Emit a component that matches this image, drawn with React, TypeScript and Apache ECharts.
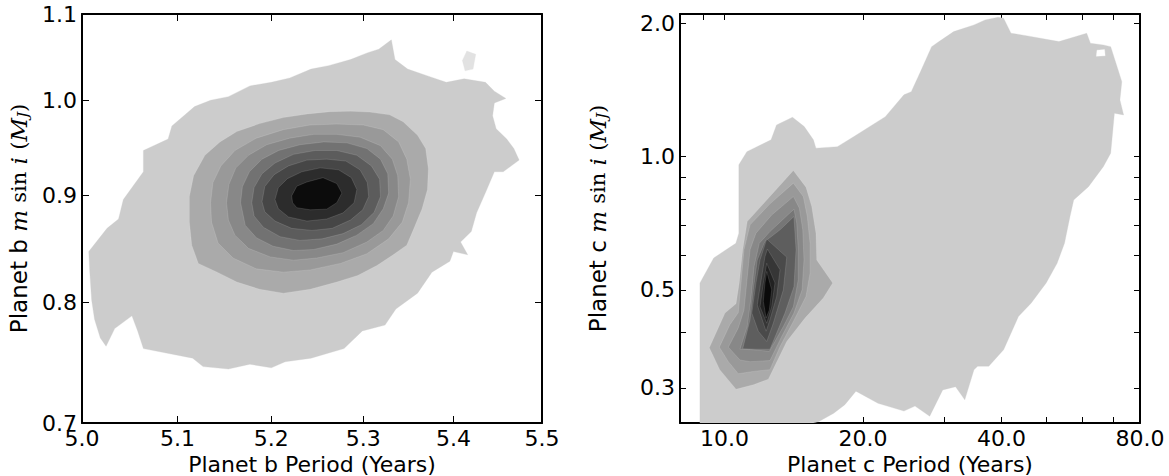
import React, { useEffect, useRef } from "react";
import * as echarts from "echarts";

// ---------- axis ticks / labels ----------
const bXTicks = [5.1, 5.2, 5.3, 5.4];
const bXLabels = [5.0, 5.1, 5.2, 5.3, 5.4, 5.5];
const bYTicks = [0.8, 0.9, 1.0];
const bYLabels = [0.7, 0.8, 0.9, 1.0, 1.1];
const cXTicks = [9, 10, 20, 30, 40, 50, 60, 70];
const cXLabels = [10, 20, 40, 80];
const cYTicks = [0.3, 0.4, 0.5, 0.6, 0.7, 0.8, 0.9, 1.0, 2.0];
const cYLabels = [0.3, 0.5, 1.0, 2.0];

// ---------- planet b contour levels (period [yr], m sin i [MJ]) ----------
const bOuter = [
  [5.007, 0.846], [5.026, 0.868], [5.038, 0.877], [5.043, 0.896], [5.064, 0.924], [5.064, 0.946],
  [5.09, 0.958], [5.094, 0.972], [5.118, 0.993], [5.135, 1.0], [5.154, 1.004], [5.177, 1.016],
  [5.2, 1.02], [5.22, 1.025], [5.243, 1.035], [5.262, 1.039], [5.286, 1.046], [5.305, 1.054],
  [5.317, 1.058], [5.331, 1.069], [5.335, 1.046], [5.349, 1.035], [5.372, 1.027], [5.392, 1.02],
  [5.412, 1.024], [5.436, 1.02], [5.446, 1.01], [5.459, 1.002], [5.446, 0.997], [5.444, 0.983],
  [5.448, 0.969], [5.46, 0.958], [5.468, 0.948], [5.474, 0.936], [5.456, 0.924], [5.446, 0.924],
  [5.436, 0.903], [5.426, 0.883], [5.42, 0.865], [5.408, 0.855], [5.416, 0.843], [5.4, 0.846],
  [5.396, 0.837], [5.376, 0.827], [5.36, 0.808], [5.336, 0.794], [5.324, 0.78], [5.299, 0.775],
  [5.279, 0.76], [5.243, 0.752], [5.215, 0.749], [5.2, 0.744], [5.177, 0.747], [5.154, 0.743],
  [5.127, 0.745], [5.116, 0.752], [5.064, 0.76], [5.058, 0.775], [5.052, 0.788], [5.034, 0.777],
  [5.025, 0.762], [5.019, 0.769], [5.013, 0.785], [5.01, 0.802], [5.008, 0.828],
];
const bSpeck = [[5.41, 1.045], [5.415, 1.056], [5.425, 1.052], [5.422, 1.035], [5.413, 1.033]];
const bLevel1 = [
  [5.1125, 0.899], [5.117, 0.92], [5.129, 0.941], [5.145, 0.955], [5.163, 0.966], [5.1875, 0.9745],
  [5.213, 0.981], [5.239, 0.985], [5.264, 0.9875], [5.286, 0.988], [5.307, 0.987], [5.329, 0.984],
  [5.344, 0.9765], [5.36, 0.962], [5.369, 0.948], [5.372, 0.927], [5.371, 0.906], [5.365, 0.887],
  [5.356, 0.868], [5.348, 0.852], [5.333, 0.843], [5.315, 0.833], [5.294, 0.824], [5.271, 0.818],
  [5.242, 0.8115], [5.213, 0.808], [5.1875, 0.8115], [5.163, 0.818], [5.142, 0.827], [5.122, 0.835],
  [5.115, 0.852], [5.1125, 0.874],
];
const bLevel2 = [
  [5.135, 0.893], [5.1375, 0.913], [5.146, 0.93], [5.161, 0.946], [5.184, 0.959], [5.213, 0.968],
  [5.242, 0.973], [5.271, 0.974], [5.3, 0.973], [5.322, 0.968], [5.339, 0.955], [5.348, 0.937],
  [5.352, 0.9165], [5.35, 0.893], [5.343, 0.874], [5.328, 0.858], [5.304, 0.844], [5.275, 0.835],
  [5.242, 0.829], [5.213, 0.827], [5.184, 0.83], [5.159, 0.84], [5.143, 0.854], [5.136, 0.874],
];
const bLevel3 = [
  [5.152, 0.893], [5.1545, 0.911], [5.162, 0.928], [5.1755, 0.941], [5.195, 0.952], [5.22, 0.959],
  [5.246, 0.963], [5.271, 0.963], [5.2965, 0.96], [5.319, 0.951], [5.332, 0.937], [5.338, 0.92],
  [5.339, 0.899], [5.333, 0.88], [5.322, 0.866], [5.304, 0.855], [5.278, 0.845], [5.249, 0.84],
  [5.224, 0.838], [5.199, 0.841], [5.1755, 0.849], [5.161, 0.8615], [5.154, 0.876],
];
const bLevel4 = [
  [5.167, 0.893], [5.169, 0.909], [5.1765, 0.924], [5.19, 0.937], [5.208, 0.946], [5.231, 0.952],
  [5.257, 0.955], [5.282, 0.954], [5.304, 0.948], [5.319, 0.937], [5.327, 0.922], [5.328, 0.9025],
  [5.322, 0.887], [5.311, 0.8725], [5.293, 0.8615], [5.271, 0.853], [5.246, 0.848], [5.224, 0.847],
  [5.202, 0.851], [5.184, 0.859], [5.172, 0.871],
];
const bLevel5 = [
  [5.179, 0.893], [5.1815, 0.908], [5.19, 0.922], [5.204, 0.933], [5.224, 0.942], [5.2475, 0.946],
  [5.271, 0.946], [5.293, 0.941], [5.309, 0.93], [5.318, 0.9165], [5.319, 0.899], [5.312, 0.8835],
  [5.298, 0.8715], [5.278, 0.863], [5.255, 0.858], [5.231, 0.8565], [5.2095, 0.86], [5.1915, 0.869],
  [5.1815, 0.88],
];
const bLevel6 = [
  [5.19, 0.894], [5.193, 0.909], [5.203, 0.921], [5.2185, 0.93], [5.2385, 0.936], [5.26, 0.937],
  [5.281, 0.935], [5.2965, 0.926], [5.3045, 0.913], [5.306, 0.899], [5.2995, 0.886], [5.286, 0.876],
  [5.266, 0.868], [5.244, 0.866], [5.222, 0.868], [5.204, 0.875], [5.193, 0.884],
];
const bLevel7 = [
  [5.204, 0.896], [5.2076, 0.908], [5.2174, 0.917], [5.233, 0.924], [5.253, 0.928], [5.273, 0.926],
  [5.287, 0.918], [5.293, 0.906], [5.29, 0.893], [5.278, 0.883], [5.26, 0.877], [5.2385, 0.875],
  [5.2185, 0.879], [5.2076, 0.887],
];
const bCore = [
  [5.222, 0.8997], [5.2276, 0.9094], [5.2385, 0.9136], [5.256, 0.918], [5.271, 0.912], [5.2766, 0.9025],
  [5.271, 0.893], [5.26, 0.8866], [5.242, 0.886], [5.2276, 0.888], [5.223, 0.893],
];
const bShapes = [bOuter, bSpeck, bLevel1, bLevel2, bLevel3, bLevel4, bLevel5, bLevel6, bLevel7, bCore];
const bColors = ["#cccccc", "#e2e2e2", "#aaaaaa", "#999999", "#888888", "#727272", "#5c5c5c", "#464646", "#2c2c2c", "#0c0c0c"];

// ---------- planet c contour levels ----------
const cOuter = [
  [8.84, 0.25], [8.84, 0.518], [9.47, 0.59], [10.58, 0.637], [10.74, 0.671], [10.74, 0.958],
  [11.18, 1.026], [12.62, 1.091], [12.97, 1.179], [14.05, 1.227], [14.9, 1.169], [15.6, 1.091],
  [15.8, 1.045], [17.59, 1.053], [19.11, 1.11], [22.36, 1.231], [24.54, 1.379], [25.46, 1.402],
  [26.67, 1.556], [28.19, 1.772], [29.25, 1.819], [31.49, 1.916], [34.85, 1.984], [36.84, 2.036],
  [39.3, 2.065], [40.42, 2.054], [41.94, 1.9], [45.58, 1.874], [53.33, 1.819], [56.35, 1.851],
  [61.27, 1.9], [62.42, 1.804], [66.58, 1.788], [69.08, 1.772], [71.7, 1.57], [73.04, 1.477],
  [72.35, 1.343], [73.7, 1.242], [70.38, 1.253], [69.08, 1.018], [66.58, 0.949], [61.82, 0.855],
  [57.41, 0.798], [56.35, 0.732], [54.82, 0.637], [52.83, 0.574], [50.02, 0.518], [46.43, 0.467],
  [43.53, 0.435], [40.42, 0.366], [37.53, 0.336], [35.5, 0.336], [34.85, 0.33], [33.28, 0.282],
  [31.78, 0.302], [29.8, 0.297], [27.92, 0.259], [25.94, 0.273], [24.54, 0.266], [21.55, 0.277],
  [19.3, 0.295], [18.26, 0.275], [17.27, 0.263], [16.04, 0.252], [15.6, 0.25],
];
const cHole = [[64.5, 1.74], [67.0, 1.745], [67.2, 1.69], [64.3, 1.685]];
const cLevel1 = [
  [9.265, 0.37], [10.02, 0.443], [10.59, 0.465], [10.76, 0.518], [10.95, 0.616], [11.2, 0.713],
  [12.35, 0.798], [14.11, 0.93], [15.03, 0.853], [15.47, 0.771], [15.8, 0.671], [15.86, 0.584],
  [17.18, 0.518], [16.39, 0.479], [14.96, 0.4315], [13.65, 0.382], [12.45, 0.314], [11.55, 0.305],
  [10.59, 0.298], [9.76, 0.33],
];
const cLevel2 = [
  [9.74, 0.371], [10.27, 0.417], [10.71, 0.444], [10.84, 0.508], [11.02, 0.616], [11.36, 0.701],
  [12.55, 0.782], [14.11, 0.871], [14.83, 0.812], [15.13, 0.732], [15.34, 0.637], [15.34, 0.545],
  [15.03, 0.483], [14.11, 0.424], [13.2, 0.372], [12.55, 0.33], [11.55, 0.327], [10.71, 0.323],
  [10.19, 0.344],
];
const cLevel3 = [
  [10.19, 0.371], [10.71, 0.41], [11.02, 0.45], [11.17, 0.518], [11.36, 0.616], [11.7, 0.671],
  [12.66, 0.738], [14.11, 0.812], [14.54, 0.7645], [14.79, 0.683], [14.88, 0.584], [14.74, 0.5],
  [14.15, 0.443], [13.31, 0.392], [12.55, 0.346], [11.36, 0.344], [10.8, 0.347],
];
const cLevel4 = [
  [10.8, 0.367], [11.2, 0.413], [11.4, 0.475], [11.59, 0.564], [11.9, 0.637], [12.55, 0.677],
  [14.15, 0.7605], [14.35, 0.707], [14.46, 0.616], [14.46, 0.527], [14.11, 0.458], [13.42, 0.413],
  [12.51, 0.363], [11.55, 0.366],
];
const cLevel5 = [
  [10.95, 0.368], [11.36, 0.428], [11.55, 0.5], [11.78, 0.584], [12.24, 0.643], [13.2, 0.683],
  [14.15, 0.732], [14.3, 0.616], [14.15, 0.508], [13.53, 0.443], [12.55, 0.367], [11.65, 0.367],
];
const cLevel6 = [
  [11.46, 0.443], [11.7, 0.518], [11.94, 0.584], [12.35, 0.651], [13.65, 0.5925], [13.42, 0.5],
  [12.76, 0.42], [12.35, 0.382], [11.84, 0.403],
];
const cLevel7 = [
  [11.78, 0.462], [11.98, 0.518], [12.24, 0.594], [12.39, 0.618], [13.2, 0.555], [12.98, 0.483],
  [12.55, 0.428], [12.31, 0.403],
];
const cLevel8 = [
  [11.94, 0.458], [12.14, 0.518], [12.35, 0.574], [12.87, 0.518], [12.66, 0.458], [12.35, 0.42],
];
const cCore = [
  [12.14, 0.471], [12.24, 0.518], [12.35, 0.55], [12.66, 0.5], [12.51, 0.45], [12.31, 0.4315],
];
const cShapes = [cOuter, cHole, cLevel1, cLevel2, cLevel3, cLevel4, cLevel5, cLevel6, cLevel7, cLevel8, cCore];
const cColors = ["#cccccc", "#ffffff", "#aaaaaa", "#999999", "#888888", "#767676", "#5e5e5e", "#4a4a4a", "#363636", "#222222", "#0a0a0a"];

const FONT = "DejaVu Sans";
const FS = 22;
const NAME_FS = 22;

function contourSeries(shapes: number[][][], colors: string[], axisIndex: number) {
  return {
    type: "custom",
    coordinateSystem: "cartesian2d",
    xAxisIndex: axisIndex,
    yAxisIndex: axisIndex,
    clip: true,
    silent: true,
    data: shapes.map((s) => s[0]),
    encode: { x: 0, y: 1 },
    renderItem: (params: any, api: any) => {
      const i = params.dataIndex;
      const pts = shapes[i].map((p) => api.coord(p));
      return {
        type: "polygon",
        shape: { points: pts },
        style: {
          fill: colors[i],
          stroke: i >= 2 ? "rgba(255,255,255,0.18)" : colors[i],
          lineWidth: i >= 2 ? 0.7 : 0.3,
        },
      };
    },
  };
}

function mainX(grid: number, min: number, max: number, ticks: number[], labels: number[], name: string, tickLen: number) {
  return {
    type: "log",
    logBase: 10,
    gridIndex: grid,
    position: "bottom",
    min,
    max,
    axisLine: { show: true, onZero: false, lineStyle: { color: "#000", width: 2 } },
    axisTick: { show: true, inside: true, length: tickLen, customValues: ticks, lineStyle: { color: "#000", width: 1 } },
    axisLabel: {
      show: true,
      customValues: labels,
      formatter: (v: number) => Number(v).toFixed(1),
      fontSize: FS,
      fontFamily: FONT,
      color: "#000",
      margin: 4,
    },
    splitLine: { show: false },
    minorTick: { show: false },
    name,
    nameLocation: "middle",
    nameGap: 21,
    nameTextStyle: { fontSize: NAME_FS, fontFamily: FONT, color: "#000", lineHeight: 22 },
  };
}

function mirrorX(grid: number, min: number, max: number, ticks: number[], tickLen: number) {
  return {
    type: "log",
    logBase: 10,
    gridIndex: grid,
    position: "top",
    min,
    max,
    axisLine: { show: true, onZero: false, lineStyle: { color: "#000", width: 2 } },
    axisTick: { show: true, inside: true, length: tickLen, customValues: ticks, lineStyle: { color: "#000", width: 1 } },
    axisLabel: { show: false },
    splitLine: { show: false },
  };
}

function mainY(grid: number, min: number, max: number, ticks: number[], labels: number[], letter: string, gap: number, tickLen: number) {
  return {
    type: "log",
    logBase: 10,
    gridIndex: grid,
    position: "left",
    min,
    max,
    axisLine: { show: true, onZero: false, lineStyle: { color: "#000", width: 2 } },
    axisTick: { show: true, inside: true, length: tickLen, customValues: ticks, lineStyle: { color: "#000", width: 1 } },
    axisLabel: {
      show: true,
      customValues: labels,
      formatter: (v: number) => Number(v).toFixed(1),
      fontSize: FS,
      fontFamily: FONT,
      color: "#000",
      margin: 5,
    },
    splitLine: { show: false },
    name: `Planet ${letter} {it|m} {rm|sin} {it|i} {rm|(}{it|M}{sub|J}{rm|)}`,
    nameLocation: "middle",
    nameRotate: 90,
    nameGap: gap,
    nameTextStyle: {
      fontSize: 23,
      fontFamily: FONT,
      color: "#000",
      rich: {
        it: { fontSize: 23, fontFamily: "DejaVu Serif", fontStyle: "italic", color: "#000" },
        rm: { fontSize: 21, fontFamily: "DejaVu Serif", color: "#000" },
        sub: { fontSize: 15, fontFamily: "DejaVu Serif", fontStyle: "italic", color: "#000", verticalAlign: "bottom", padding: [8, 0, 0, 0] },
      },
    },
  };
}

function mirrorY(grid: number, min: number, max: number, ticks: number[], tickLen: number) {
  return {
    type: "log",
    logBase: 10,
    gridIndex: grid,
    position: "right",
    min,
    max,
    axisLine: { show: true, onZero: false, lineStyle: { color: "#000", width: 2 } },
    axisTick: { show: true, inside: true, length: tickLen, customValues: ticks, lineStyle: { color: "#000", width: 1 } },
    axisLabel: { show: false },
    splitLine: { show: false },
  };
}

export default function App() {
  const ref = useRef<HTMLDivElement>(null);
  useEffect(() => {
    if (!ref.current) return;
    const chart = echarts.init(ref.current, undefined, { renderer: "svg" });
    const option: any = {
      animation: false,
      backgroundColor: "#ffffff",
      grid: [
        { left: 82, top: 14, width: 460, height: 409, containLabel: false, outerBoundsMode: "none" },
        { left: 680, top: 14, width: 460, height: 409, containLabel: false, outerBoundsMode: "none" },
      ],
      xAxis: [
        mainX(0, 5.0, 5.5, bXTicks, bXLabels, "Planet b Period (Years)", 7),
        mirrorX(0, 5.0, 5.5, bXTicks, 7),
        mainX(1, 8, 80, cXTicks, cXLabels, "Planet c Period (Years)", 6),
        mirrorX(1, 8, 80, cXTicks, 6),
      ],
      yAxis: [
        mainY(0, 0.7, 1.1, bYTicks, bYLabels, "b", 52, 7),
        mirrorY(0, 0.7, 1.1, bYTicks, 7),
        mainY(1, 0.25, 2.1, cYTicks, cYLabels, "c", 71, 6),
        mirrorY(1, 0.25, 2.1, cYTicks, 6),
      ],
      series: [contourSeries(bShapes, bColors, 0), contourSeries(cShapes, cColors, 2)],
    };
    chart.setOption(option);
    return () => chart.dispose();
  }, []);
  return (
    <div
      ref={ref}
      style={{ position: "absolute", left: 0, top: 0, width: 1169, height: 476, background: "#fff" }}
    />
  );
}
